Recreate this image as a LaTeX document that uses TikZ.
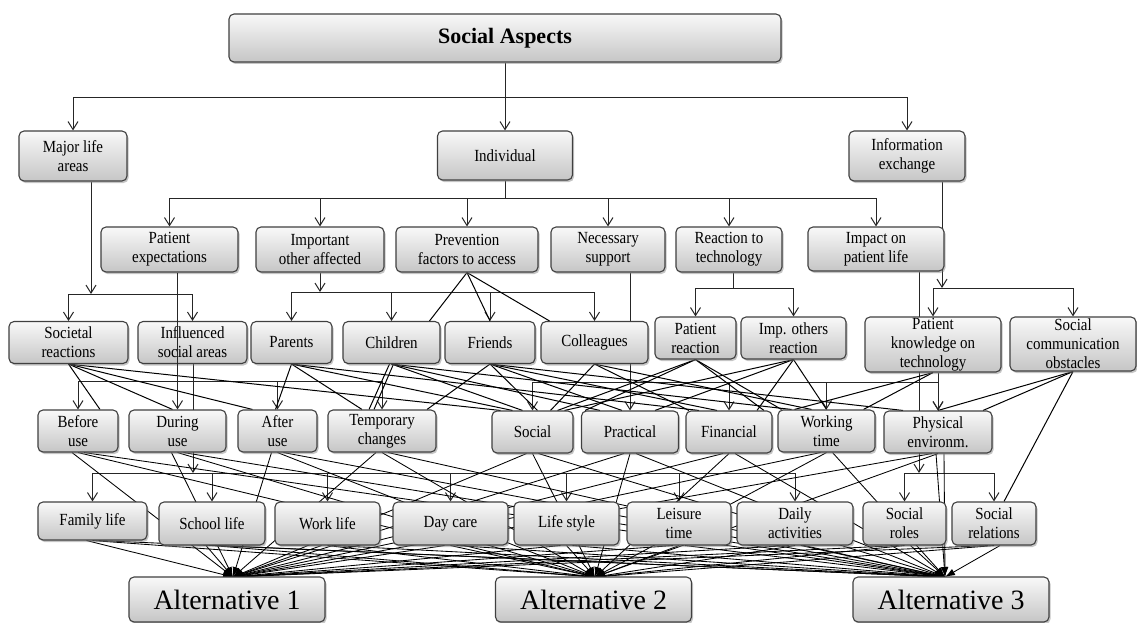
\documentclass[tikz,border=0pt]{standalone}
\usepackage{fontspec}
\setmainfont{Liberation Serif}[FakeStretch=0.88]
\newfontfamily\widefont{Liberation Serif}
\usetikzlibrary{arrows.meta,shadows}
\pgfdeclarelayer{background}
\pgfsetlayers{background,main}

\tikzset{
  box/.style={draw=black!75, line width=1.1pt, rounded corners=5pt,
    top color=gray!5, bottom color=gray!45,
    drop shadow={shadow xshift=1.5pt, shadow yshift=-2pt, opacity=0.45},
    align=center, inner sep=1pt, font=\fontsize{17}{19}\selectfont},
  tree/.style={draw=black!85, line width=1pt},
  treearrow/.style={tree, -{Straight Barb[length=8pt,width=10pt,line width=1pt]}},
  mesh/.style={draw=black, line width=1pt},
  altarrow/.style={draw=black, line width=0.85pt, -{Latex[length=10pt,width=7pt]}},
}
\newcommand\mkbox[6]{\node[box,minimum width=#4pt,minimum height=#5pt] (#1) at (#2,#3) {#6};}

\begin{document}
\begin{tikzpicture}[x=1pt,y=-1pt]
\useasboundingbox (0,0) rectangle (1137,623);

% ---- root
\node[box, minimum width=552pt, minimum height=48pt,
      font=\widefont\bfseries\fontsize{22}{26}\selectfont] (sa) at (505,38) {Social Aspects};

% ---- first level
\mkbox{mla}{73}{156}{108}{50}{Major life\\areas}
\mkbox{ind}{505}{155.5}{135}{49}{Individual}
\mkbox{inf}{907}{156}{116}{50}{Information\\exchange}

% ---- second level
\mkbox{pe}{169.5}{249.5}{137}{45}{Patient\\expectations}
\mkbox{ioa}{320}{249.5}{128}{45}{Important\\other affected}
\mkbox{pfa}{467}{249.5}{142}{45}{Prevention\\factors to access}
\mkbox{ns}{608}{249.5}{114}{45}{Necessary\\support}
\mkbox{rtt}{729}{249.5}{106}{45}{Reaction to\\technology}
\mkbox{ipl}{876}{249}{136}{44}{Impact on\\patient life}

% ---- third level
\mkbox{sr}{68.5}{342.5}{119}{42}{Societal\\reactions}
\mkbox{isa}{192.5}{342.5}{109}{42}{Influenced\\social areas}
\mkbox{par}{291.5}{342.5}{81}{42}{Parents}
\mkbox{chi}{391.5}{342.5}{97}{42}{Children}
\mkbox{fri}{490}{342.5}{90}{42}{Friends}
\mkbox{col}{594.5}{342.5}{107}{42}{Colleagues}
\mkbox{prc}{695.5}{338}{81}{42}{Patient\\reaction}
\mkbox{ior}{793.5}{338}{105}{42}{Imp. others\\reaction}
\mkbox{pkt}{933}{344.5}{136}{55}{Patient\\knowledge on\\technology}
\mkbox{sco}{1073}{344}{126}{54}{Social\\communication\\obstacles}

% ---- fourth level
\mkbox{bu}{78}{431}{80}{42}{Before\\use}
\mkbox{du}{177.5}{431}{97}{42}{During\\use}
\mkbox{au}{277.5}{431}{79}{42}{After\\use}
\mkbox{tc}{382}{431}{108}{42}{Temporary\\changes}
\mkbox{so}{532.5}{432}{81}{42}{Social}
\mkbox{pr}{630}{432}{97}{42}{Practical}
\mkbox{fi}{729}{432}{86}{42}{Financial}
\mkbox{wt}{826.5}{431}{97}{42}{Working\\time}
\mkbox{ph}{938}{432}{108}{42}{Physical\\environm.}

% ---- fifth level
\mkbox{fl}{92.5}{521}{109}{38}{Family life}
\mkbox{sl}{212}{523.5}{106}{43}{School life}
\mkbox{wl}{327.5}{523.5}{105}{43}{Work life}
\mkbox{dc}{450.5}{523.5}{115}{43}{Day care}
\mkbox{ls}{566.5}{523.5}{105}{43}{Life style}
\mkbox{lt}{679}{523.5}{104}{43}{Leisure\\time}
\mkbox{da}{795}{523.5}{116}{43}{Daily\\activities}
\mkbox{sro}{904.5}{523.5}{83}{43}{Social\\roles}
\mkbox{sre}{994}{523.5}{84}{43}{Social\\relations}

% ---- alternatives
\tikzset{altbox/.style={box, minimum width=196pt, minimum height=45pt,
  font=\widefont\fontsize{28}{32}\selectfont}}
\node[altbox] (a1) at (227,599.5) {Alternative 1};
\node[altbox] (a2) at (593.5,599.5) {Alternative 2};
\node[altbox] (a3) at (951,599.5) {Alternative 3};

% ---- junction points of the bus lines
\coordinate (jT) at (505,98);
\coordinate (jI) at (505,198);
\coordinate (jM) at (91,294);
\coordinate (jO) at (320,292);
\coordinate (jR) at (733,288);
\coordinate (jX) at (942,288);
\coordinate (jP) at (177.5,381);
\coordinate (jN) at (630,382);
\coordinate (jS) at (193,473);
\coordinate (jL) at (919,473);
% arrow targets on the alternatives
\coordinate (t1) at (233,577);
\coordinate (t2) at (595,577);
\coordinate (t3) at (945,577);

\begin{pgfonlayer}{background}
\fill[white] (0,0) rectangle (1137,623);

% tree connectors
\draw[tree] (sa.south) -- (jT);
\draw[treearrow] (jT) -| (mla.north);
\draw[treearrow] (jT) -- (ind.north);
\draw[treearrow] (jT) -| (inf.north);

\draw[tree] (ind.south) -- (jI);
\foreach \n in {pe,ioa,pfa,ns,rtt,ipl} \draw[treearrow] (jI) -| (\n.north);

\draw[treearrow] (mla.south -| jM) -- (jM);
\draw[treearrow] (jM) -| (sr.north);
\draw[treearrow] (jM) -| (isa.north);

\draw[treearrow] (ioa.south) -- (jO);
\foreach \n in {par,chi,fri,col} \draw[treearrow] (jO) -| (\n.north);

\draw[tree] (rtt.south -| jR) -- (jR);
\draw[treearrow] (jR) -| (prc.north);
\draw[treearrow] (jR) -| (ior.north);

\draw[treearrow] (inf.south -| jX) -- (jX);
\draw[treearrow] (jX) -| (pkt.north);
\draw[treearrow] (jX) -| (sco.north);

\foreach \n in {bu,au,tc} \draw[treearrow] (jP) -| (\n.north);

\draw[treearrow] (ns.south -| pr.north) -- (pr.north);
\foreach \n in {so,fi,wt,ph} \draw[treearrow] (jN) -| (\n.north);

\draw[treearrow] (isa.south -| jS) -- (jS);
\foreach \n in {fl,sl,wl,dc,ls,lt,da} \draw[treearrow] (jS) -| (\n.north);

\draw[treearrow] (ipl.south -| jL) -- (jL);
\draw[treearrow] (jL) -| (sro.north);
\draw[treearrow] (jL) -| (sre.north);

\draw[treearrow] (pkt.south -| ph.north) -- (ph.north);

% prevention factors
\draw[mesh] (pfa.south) -- ([xshift=38pt]chi.north);
\draw[mesh] (pfa.south) -- (fri.north);
\draw[mesh] (pfa.south) -- ([xshift=-45pt]col.north);

% cross links between third and fourth level
\draw[mesh] (sr.south) -- ([xshift=22pt]bu.north);
\draw[mesh] (sr.south) -- ([xshift=-5pt]du.north);
\draw[mesh] (sr.south) -- ([xshift=-25pt]au.north);
\draw[mesh] (sr.south) -- ([xshift=-32pt]so.north);

\draw[mesh] (par.south) -- ([xshift=-2pt]au.north);
\draw[mesh] (par.south) -- ([xshift=-20pt]tc.north);
\draw[mesh] (par.south) -- ([xshift=-20pt]so.north);
\draw[mesh] (par.south) -- ([xshift=-30pt]fi.north);

\draw[mesh] ([xshift=-2pt]chi.south) -- ([xshift=-13pt]tc.north);
\draw[mesh] ([xshift=2pt]chi.south) -- ([xshift=-8pt]tc.north);
\draw[mesh] (chi.south) -- ([xshift=-10pt]so.north);
\draw[mesh] (chi.south) -- ([xshift=-30pt]pr.north);
\draw[mesh] (chi.south) -- ([xshift=-35pt]wt.north);

\draw[mesh] (fri.south) -- ([xshift=45pt]tc.north);
\draw[mesh] (fri.south) -- ([xshift=5pt]so.north);
\draw[mesh] (fri.south) -- ([xshift=-8pt]pr.north);
\draw[mesh] (fri.south) -- ([xshift=-12pt]fi.north);
\draw[mesh] (fri.south) -- ([xshift=-35pt]ph.north);

\draw[mesh] (col.south) -- ([xshift=18pt]so.north);
\draw[mesh] (col.south) -- ([xshift=-40pt]fi.north);
\draw[mesh] (col.south) -- ([xshift=-15pt]wt.north);

\draw[mesh] (prc.south) -- ([xshift=-45pt]pr.north);
\draw[mesh] (prc.south) -- ([xshift=25pt]so.north);
\draw[mesh] (prc.south) -- ([xshift=35pt]fi.north);
\draw[mesh] (prc.south) -- ([xshift=-45pt]wt.north);

\draw[mesh] (ior.south) -- ([xshift=25pt]pr.north);
\draw[mesh] (ior.south) -- ([xshift=28pt]fi.north);
\draw[mesh] (ior.south) -- (wt.north);
\draw[mesh] (ior.south) -- ([xshift=32pt]so.north);

\draw[mesh] (pkt.south) -- ([xshift=-32pt]wt.north);
\draw[mesh] (pkt.south) -- ([xshift=37pt]wt.north);

\draw[mesh] (sco.south) -- (ph.north);
\draw[mesh] (sco.south) -- ([xshift=45pt]ph.north);
\draw[mesh] (sco.south) -- ([xshift=10pt]sre.north);

% every criterion leads to the three alternatives
\foreach \n in {bu,du,au,tc,so,pr,fi,wt,ph,fl,sl,wl,dc,ls,lt,da,sro,sre} {
  \draw[altarrow] ([xshift=-6pt]\n.south) -- (t1);
  \draw[altarrow] (\n.south) -- (t2);
  \draw[altarrow] ([xshift=6pt]\n.south) -- (t3);
}
\draw[altarrow] ([xshift=-2pt]ph.south) -- (t3);
\end{pgfonlayer}

% expectation line runs over the influenced-areas box
\draw[tree] (pe.south -| jP) -- (jP);
\draw[treearrow] (jP) -- (du.north);
\end{tikzpicture}
\end{document}
